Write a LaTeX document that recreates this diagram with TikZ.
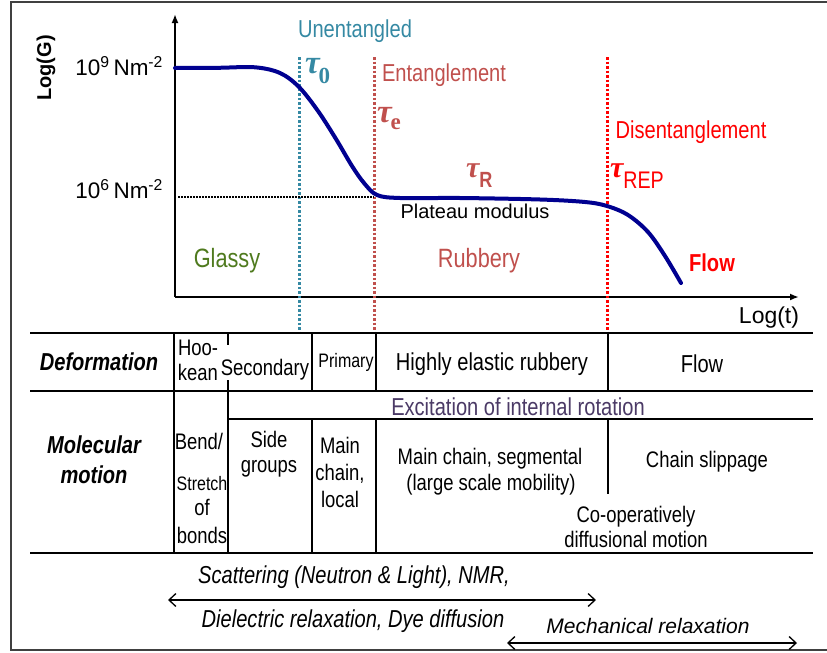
\documentclass[tikz,border=0pt]{standalone}
\usepackage{fontspec}
\setmainfont{Liberation Sans}
\newfontfamily\nar[FakeStretch=0.82]{Liberation Sans}
\newfontfamily\tim{Liberation Serif}
\usetikzlibrary{arrows.meta}
\definecolor{tealc}{HTML}{3589A3}
\definecolor{brred}{HTML}{C0504D}
\definecolor{redc}{HTML}{FF0000}
\definecolor{greenc}{HTML}{4F7A1E}
\definecolor{purplec}{HTML}{4B3A66}
\definecolor{navyc}{HTML}{000090}
\newcommand\mytau[1]{{\tim\bfseries\itshape\fontsize{#1}{#1}\selectfont τ}}
\begin{document}
\begin{tikzpicture}[x=1pt,y=-1pt,
  every node/.style={inner sep=0pt,outer sep=0pt,anchor=base},
  big/.style={font=\nar\fontsize{24.5}{28}\selectfont},
  bigger/.style={font=\nar\fontsize{26.5}{30}\selectfont},
  cell/.style={font=\nar\fontsize{22.5}{26}\selectfont},
  wide/.style={font=\nar\fontsize{24.5}{28}\selectfont},
  small/.style={font=\nar\fontsize{19.5}{22}\selectfont},
  head/.style={font=\nar\bfseries\itshape\fontsize{24.5}{28}\selectfont},
  meth/.style={font=\nar\itshape\fontsize{24.5}{28}\selectfont},
  reg/.style={font=\fontsize{20}{24}\selectfont},
  axisline/.style={line width=2pt,-{Latex[length=9pt,width=7pt]}},
  tline/.style={line width=1.6pt},
  vdot/.style={line width=3pt,dash pattern=on 2.5pt off 2pt},
  dbl/.style={line width=1.3pt,{Straight Barb[length=7pt,width=13pt]}-{Straight Barb[length=7pt,width=13pt]}}
]
\useasboundingbox (0,0) rectangle (827,653);
% frame
\draw[line width=1.4pt,black!75] (827,2) -- (11,2) -- (11,650) -- (827,650);

% axes
\coordinate (O) at (175,297);
\coordinate (Ytop) at (175,14);
\coordinate (Xend) at (799,297);
\draw[axisline] (O) -- (Ytop);
\draw[axisline] (O) -- (Xend);

% dotted verticals
\coordinate (t0a) at (299,57); \coordinate (t0b) at (299,333);
\coordinate (tea) at (374,57); \coordinate (teb) at (374,333);
\coordinate (tra) at (607,57); \coordinate (trb) at (607,333);
\draw[vdot,tealc] (t0a) -- (t0b);
\draw[vdot,brred] (tea) -- (teb);
\draw[vdot,redc] (tra) -- (trb);
% plateau dotted
\coordinate (pa) at (178,197); \coordinate (pb) at (374,197);
\draw[line width=1.3pt,dash pattern=on 1.5pt off 1.5pt] (pa) -- (pb);

% curve
\draw[navyc,line width=4pt,line cap=round,line join=round] plot[smooth,tension=0.55] coordinates {
 (175,68) (218,67.8) (255,67.3) (280,73) (299,87) (318,111) (336,139) (352,166)
 (364,183) (377,195) (400,198) (460,198) (540,199.5) (585,202) (607,206) (628,215)
 (648,232) (665,256) (681,283)};

% axis labels
\node[font=\bfseries\fontsize{20}{24}\selectfont,rotate=90,anchor=base] (ylab) at (51,68) {Log(G)};
\node[font=\fontsize{23}{26}\selectfont] (xlab) at (769,323) {Log(t)};
\node[anchor=base east,font=\fontsize{22.5}{26}\selectfont] (g9) at (163,75) {10\textsuperscript{9}\,Nm\textsuperscript{-2}};
\node[anchor=base east,font=\fontsize{22.5}{26}\selectfont] (g6) at (163,198) {10\textsuperscript{6}\,Nm\textsuperscript{-2}};

% regime labels
\node[big,text=tealc] (unent) at (355,37) {Unentangled};
\node[big,text=brred] (ent) at (444,81) {Entanglement};
\node[big,text=redc] (dis) at (691,138) {Disentanglement};
\node[anchor=base west,text=tealc] (tau0) at (305,73) {\mytau{33}\kern-1pt{\tim\bfseries\fontsize{23}{23}\selectfont\raisebox{-10pt}{0}}};
\node[anchor=base west,text=brred] (taue) at (377,122) {\mytau{33}\kern-1pt{\tim\bfseries\fontsize{23}{23}\selectfont\raisebox{-7pt}{e}}};
\node[anchor=base west,text=brred] (tauR) at (466,177) {\mytau{30}{\nar\bfseries\fontsize{22}{22}\selectfont\raisebox{-10pt}{R}}};
\node[anchor=base west,text=redc] (tauREP) at (610,177) {\mytau{30}{\nar\fontsize{24}{24}\selectfont\raisebox{-11pt}{REP}}};
\node[reg] (plat) at (475,218) {Plateau modulus};
\node[bigger,text=greenc] (glassy) at (227,267) {Glassy};
\node[bigger,text=brred] (rubb) at (479,267) {Rubbery};
\node[text=redc,font=\nar\bfseries\fontsize{24.5}{28}\selectfont] (flowc) at (712,271) {Flow};

% table lines
\coordinate (h1a) at (30,333); \coordinate (h1b) at (813,333);
\coordinate (h2a) at (30,391); \coordinate (h2b) at (813,391);
\coordinate (h3a) at (228,419); \coordinate (h3b) at (813,419);
\coordinate (h4a) at (30,553); \coordinate (h4b) at (813,553);
\draw[tline] (h1a) -- (h1b);
\draw[tline] (h2a) -- (h2b);
\draw[tline] (h3a) -- (h3b);
\draw[tline] (h4a) -- (h4b);
\coordinate (v1a) at (174,333); \coordinate (v1b) at (174,553);
\draw[tline] (v1a) -- (v1b);
\coordinate (v2a) at (228,333); \coordinate (v2b) at (228,345);
\coordinate (v2c) at (228,380); \coordinate (v2d) at (228,553);
\draw[tline] (v2a) -- (v2b);
\draw[tline] (v2c) -- (v2d);
\coordinate (v3a) at (312,333); \coordinate (v3b) at (312,391);
\coordinate (v3c) at (312,419); \coordinate (v3d) at (312,553);
\draw[tline] (v3a) -- (v3b); \draw[tline] (v3c) -- (v3d);
\coordinate (v4a) at (376,333); \coordinate (v4b) at (376,391);
\coordinate (v4c) at (376,419); \coordinate (v4d) at (376,553);
\draw[tline] (v4a) -- (v4b); \draw[tline] (v4c) -- (v4d);
\coordinate (v5a) at (608,333); \coordinate (v5b) at (608,391);
\coordinate (v5c) at (608,419); \coordinate (v5d) at (608,494);
\draw[tline] (v5a) -- (v5b); \draw[tline] (v5c) -- (v5d);

% table texts
\node[head] (deform) at (99,370) {Deformation};
\node[head] (molec1) at (94,453) {Molecular};
\node[head] (molec2) at (94,483) {motion};
\node[cell] (hoo) at (198,355) {Hoo-};
\node[cell] (kean) at (198,380) {kean};
\node[cell] (second) at (265,375) {Secondary};
\node[small] (prim) at (346,367) {Primary};
\node[wide] (hier) at (492,370) {Highly elastic rubbery};
\node[wide] (flowt) at (702,372) {Flow};
\node[wide,text=purplec] (excit) at (518,415) {Excitation of internal rotation};
\node[cell] (bend) at (199,449) {Bend/};
\node[small] (stretch) at (202,490) {Stretch};
\node[cell] (of) at (202,515) {of};
\node[cell] (bonds) at (202,543) {bonds};
\node[cell] (side) at (269,447) {Side};
\node[cell] (groups) at (269,472) {groups};
\node[cell] (main1) at (340,453) {Main};
\node[cell] (main2) at (340,480) {chain,};
\node[cell] (main3) at (340,507) {local};
\node[cell] (seg1) at (490,464) {Main chain, segmental};
\node[cell] (seg2) at (491,490) {(large scale mobility)};
\node[cell] (slip) at (707,467) {Chain slippage};
\node[cell] (coop1) at (636,522) {Co-operatively};
\node[cell] (coop2) at (636,547) {diffusional motion};

% methods
\node[meth] (scat) at (354,583) {Scattering (Neutron \& Light), NMR,};
\node[meth] (diel) at (353,627) {Dielectric relaxation, Dye diffusion};
\node[font=\itshape\fontsize{21}{24}\selectfont] (mech) at (648,633) {Mechanical relaxation};
\coordinate (a1l) at (168,600); \coordinate (a1r) at (596,600);
\coordinate (a2l) at (507,643); \coordinate (a2r) at (797,643);
\draw[dbl] (a1l) -- (a1r);
\draw[dbl] (a2l) -- (a2r);
\end{tikzpicture}
\end{document}
